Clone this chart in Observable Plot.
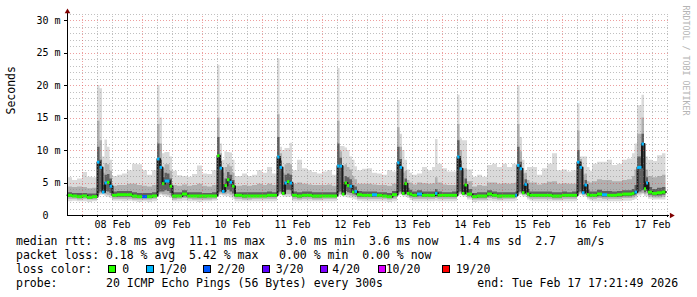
<!DOCTYPE html>
<html><head><meta charset="utf-8">
<script src="https://cdn.jsdelivr.net/npm/d3@7"></script>
<script src="https://cdn.jsdelivr.net/npm/@observablehq/plot@0.6"></script>
<style>
body{margin:0;background:#fff;}
#wrap{position:relative;width:697px;height:297px;overflow:hidden;background:#fff;font-family:"DejaVu Sans Mono",monospace;}
.lg{position:absolute;font-size:11.5px;line-height:14px;white-space:pre;color:#000;}
.sw{position:absolute;width:6px;height:6px;border:1px solid #000;}
</style></head><body>
<div id="wrap"></div>
<script>
// bin start, hours since 08 Feb 00:00
const binStart = [
  -6,-4,-2,
  0,2,4,6,7,8,9,10,11,12,14,16,18,20,22,
  24,26,28,30,31,32,33,34,35,36,38,40,42,44,46,
  48,50,52,54,55,56,57,58,59,60,61,64,66,68,70,
  72,74,76,78,79,80,81,82,83,84,86,88,90,92,94,
  96,98,100,102,103,104,105,106,107,108,109,110,112,114,116,118,
  120,122,124,126,127,128,129,130,131,132,134,136,138,140,141.2,142.2,
  144,146,148,150,151,152,153,154,156,158,160,162,164,166,
  168,170,172,173.3,174,175,176,177,178,179,180,182,184,186,188,190,
  192,194,196,198,199,200,201,202,203,204,206,208,210,212,214,
  216,218,220,221,222,223.8,224.8,225.6,226.4,228,230,232
];
const endHour = 233.36;
// median rtt (ms)
const median = [
  3.1,3.0,2.9,
  3.0,2.8,2.9,8.2,7.4,3.6,5.0,5.1,4.5,3.1,3.2,3.2,3.2,3.0,2.9,
  2.9,2.9,3.0,8.7,7.4,4.9,5.3,5.3,4.5,3.0,3.0,3.3,3.0,3.0,3.0,
  3.0,3.0,3.0,9.2,7.3,3.7,4.6,5.5,5.1,4.5,3.1,3.0,3.0,3.0,3.0,
  3.0,3.1,3.1,9.0,7.4,3.4,5.0,5.2,5.0,3.1,3.0,3.1,3.1,3.0,3.0,
  3.0,3.0,3.0,7.6,7.6,3.3,5.0,4.6,4.5,3.6,3.7,3.2,3.1,3.1,3.2,3.1,
  3.0,2.9,3.2,8.1,7.4,3.4,4.9,3.4,3.3,3.1,3.3,3.1,3.1,3.1,3.4,3.1,
  3.1,3.1,3.1,9.0,7.2,3.4,4.7,3.3,2.9,3.0,3.0,3.3,3.1,3.0,
  3.0,3.0,3.0,3.1,7.7,7.2,3.5,4.8,3.3,3.1,3.1,3.1,3.1,3.1,3.0,3.0,
  3.1,3.1,3.1,8.2,7.4,3.5,4.7,3.2,3.1,3.1,3.3,3.2,3.1,3.1,3.2,
  3.3,3.3,3.4,3.6,7.4,11.0,4.1,5.0,3.6,3.4,3.5,3.6
];
// lost pings out of 20 -> index into lossColors
const lossIdx = [
  0,0,0,
  0,0,0,1,1,1,1,0,1,0,0,0,0,0,0,
  2,0,0,1,1,0,1,1,0,0,0,0,0,0,0,
  0,0,0,0,1,1,0,0,1,0,0,0,0,0,0,
  0,0,0,1,1,0,1,0,1,0,0,0,0,0,0,
  0,0,0,1,1,0,0,0,1,0,1,0,0,0,1,0,
  0,0,0,1,1,0,0,0,0,0,1,0,0,0,1,0,
  0,0,0,1,1,0,0,0,0,0,0,0,0,0,
  0,0,0,1,1,1,0,1,0,0,0,0,0,0,0,0,
  0,0,0,1,1,1,1,0,0,0,0,1,0,0,0,
  0,0,0,1,1,1,0,1,0,0,0,0
];
// smoke: outer (min..max), middle (lo..hi), core (dlo..dhi), ms
const smokeMin = [
  2.1,2.2,2.1,
  2.1,2.0,2.1,2.9,3.1,3.1,2.9,2.8,2.6,2.2,2.2,2.1,2.2,2.1,2.0,
  2.1,2.0,2.1,3.0,3.1,3.0,2.9,2.8,2.6,2.1,2.1,2.2,2.1,2.1,2.0,
  2.1,2.1,2.2,3.0,3.1,3.0,2.9,2.9,2.7,2.5,2.1,2.1,2.1,2.1,2.1,
  2.1,2.1,2.1,3.0,3.1,2.9,2.8,2.8,2.8,2.1,2.1,2.1,2.1,2.1,2.1,
  2.1,2.1,2.1,3.0,3.0,2.9,2.8,2.7,2.6,2.5,2.4,2.2,2.1,2.1,2.1,2.1,
  2.1,2.0,2.1,3.0,3.1,2.9,2.8,2.6,2.3,2.1,2.1,2.1,2.1,2.1,2.2,2.1,
  2.1,2.1,2.1,3.0,3.1,2.9,2.8,2.4,2.0,2.1,2.1,2.2,2.1,2.1,
  2.1,2.1,2.1,2.2,3.0,3.1,2.9,2.8,2.4,2.2,2.1,2.1,2.1,2.1,2.1,2.1,
  2.1,2.1,2.1,3.0,3.1,2.9,2.8,2.4,2.2,2.1,2.1,2.1,2.1,2.1,2.1,
  2.2,2.2,2.3,2.5,3.0,3.2,2.9,2.9,2.5,2.4,2.4,2.4
];
const smokeMax = [
  5.8,5.4,5.6,
  6.6,5.9,5.8,20,19.5,9.0,11.6,10.5,8.5,6.0,6.2,6.4,6.9,7.9,7.8,
  6.9,6.2,6.9,20,15,9.5,9.7,9.7,9.0,6.8,6.1,6.0,5.9,6.3,7.6,
  6.4,6.3,6.9,23.1,11,8.5,9.8,9.7,9.6,8.5,6.0,6.4,6.0,6.2,6.9,
  6.5,7.4,6.4,24.1,10.5,10,10.3,10.3,11.1,6.9,8.5,7.2,6.9,6.6,6.4,
  6.7,6.9,6.2,22.6,10.6,10.6,10.4,10.0,9.0,8.5,7.5,6.9,7.1,7.2,6.5,6.4,
  6.2,6.9,6.7,17.7,12.5,10,8.5,7.0,6.5,6.2,6.4,7.4,6.9,7.4,11.7,7.9,
  7.2,6.7,6.7,18.5,11.8,11.5,11.5,7.0,5.9,6.2,5.9,7.7,7.9,7.4,
  7.9,7.4,7.9,7.9,20,12,8.5,6.9,7.4,7.4,7.4,6.2,7.2,7.9,9.5,6.9,
  7.0,6.7,6.9,17.2,9.0,9.0,9.0,7.4,6.8,7.9,8.2,8.2,8.5,7.7,7.9,
  8.5,8.7,9.5,11,16.9,18.5,9.0,9.0,8.5,8.3,9.2,9.5
];
const smokeLo = [
  2.5,2.5,2.4,
  2.5,2.4,2.4,3.1,3.3,3.3,3.2,3.1,3.0,2.5,2.5,2.5,2.5,2.4,2.4,
  2.4,2.4,2.5,3.2,3.3,3.2,3.2,3.1,3.0,2.4,2.5,2.6,2.5,2.4,2.4,
  2.4,2.4,2.5,3.2,3.3,3.2,3.2,3.3,3.1,2.9,2.5,2.4,2.4,2.5,2.5,
  2.5,2.5,2.5,3.2,3.3,3.1,3.2,3.2,3.2,2.5,2.4,2.5,2.5,2.4,2.4,
  2.5,2.5,2.5,3.2,3.2,3.1,3.2,3.1,3.0,2.9,2.8,2.5,2.5,2.5,2.5,2.5,
  2.5,2.4,2.5,3.2,3.3,3.1,3.1,2.9,2.6,2.5,2.5,2.5,2.5,2.5,2.6,2.5,
  2.5,2.5,2.5,3.2,3.3,3.1,3.1,2.7,2.4,2.4,2.4,2.6,2.5,2.4,
  2.5,2.5,2.5,2.6,3.2,3.3,3.1,3.1,2.7,2.5,2.5,2.5,2.5,2.5,2.4,2.4,
  2.5,2.5,2.5,3.2,3.3,3.1,3.1,2.7,2.5,2.5,2.6,2.5,2.5,2.5,2.5,
  2.6,2.6,2.7,2.9,3.3,3.4,3.2,3.3,2.8,2.7,2.7,2.8
];
const smokeHi = [
  4.4,4.3,4.4,
  4.3,4.1,4.2,14.5,11.5,6.5,8.0,7.8,6.8,4.5,4.6,4.6,4.8,4.8,4.6,
  4.5,4.4,4.6,14,11,7.2,7.8,7.8,6.8,4.6,4.5,4.7,4.5,4.6,4.8,
  4.5,4.4,4.6,15,9.5,6.5,7.4,7.8,7.5,6.5,4.5,4.6,4.5,4.6,4.8,
  4.6,4.8,4.6,15.5,9.5,6.5,7.8,8.0,7.8,4.8,5.0,4.8,4.7,4.6,4.6,
  4.6,4.7,4.5,14.5,9.8,7.5,7.8,7.4,7.0,6.0,5.5,4.8,4.8,4.8,4.7,4.6,
  4.6,4.5,4.8,13.5,10.5,6.5,6.8,5.4,5.0,4.7,5.0,4.9,4.8,4.9,5.8,5.0,
  4.7,4.6,4.6,14,10,7.0,7.2,5.2,4.4,4.6,4.5,5.0,5.0,4.8,
  4.9,4.8,4.9,5.0,14,9.8,6.4,6.5,5.4,5.0,5.0,4.7,4.9,5.1,5.2,4.8,
  4.9,4.8,4.8,13,8.6,6.2,6.4,5.2,5.0,5.2,5.5,5.4,5.4,5.2,5.2,
  5.4,5.5,6.0,7.0,12.5,15,7.0,7.0,6.0,5.8,6.0,6.2
];
const coreLo = [
  2.8,2.8,2.7,
  2.8,2.6,2.7,3.4,3.6,3.4,3.7,3.6,3.4,2.8,2.8,2.8,2.8,2.7,2.7,
  2.7,2.7,2.8,3.5,3.6,3.6,3.8,3.7,3.4,2.7,2.8,2.9,2.8,2.8,2.7,
  2.7,2.8,2.8,3.5,3.6,3.4,3.6,3.9,3.6,3.3,2.8,2.7,2.8,2.8,2.8,
  2.8,2.8,2.8,3.5,3.6,3.3,3.8,3.9,3.8,2.8,2.7,2.8,2.8,2.7,2.7,
  2.8,2.8,2.8,3.5,3.6,3.3,3.7,3.5,3.4,3.2,3.1,2.8,2.8,2.8,2.8,2.8,
  2.8,2.7,2.9,3.5,3.6,3.3,3.5,3.1,2.9,2.8,2.9,2.8,2.8,2.8,2.9,2.8,
  2.8,2.8,2.8,3.5,3.6,3.3,3.5,3.0,2.7,2.7,2.7,2.9,2.8,2.7,
  2.8,2.8,2.8,2.9,3.5,3.6,3.3,3.5,3.0,2.8,2.8,2.8,2.8,2.8,2.7,2.7,
  2.8,2.8,2.8,3.5,3.6,3.3,3.5,2.9,2.8,2.8,2.9,2.8,2.8,2.8,2.8,
  2.9,2.9,3.0,3.2,3.6,3.8,3.5,3.7,3.1,3.0,3.0,3.1
];
const coreHi = [
  3.5,3.4,3.4,
  3.4,3.3,3.3,10.5,8.5,4.6,6.2,6.3,5.6,3.6,3.7,3.7,3.7,3.5,3.4,
  3.4,3.4,3.5,11,8.5,5.8,6.5,6.4,5.6,3.5,3.5,3.8,3.5,3.5,3.5,
  3.4,3.4,3.5,12,8.3,4.8,5.6,6.6,6.2,5.4,3.5,3.5,3.5,3.5,3.5,
  3.5,3.6,3.5,12,8.4,4.6,6.2,6.4,6.2,3.6,3.5,3.6,3.6,3.5,3.5,
  3.5,3.5,3.5,11,8.8,5.0,6.0,5.8,5.5,4.6,4.4,3.7,3.6,3.6,3.6,3.5,
  3.5,3.4,3.7,10.5,8.6,4.6,5.6,4.2,3.9,3.6,3.8,3.6,3.6,3.6,4.0,3.6,
  3.5,3.5,3.6,11.5,8.4,4.6,5.6,4.0,3.4,3.5,3.5,3.8,3.6,3.5,
  3.5,3.5,3.5,3.6,10.5,8.2,4.6,5.5,4.0,3.6,3.6,3.6,3.6,3.6,3.5,3.5,
  3.6,3.5,3.6,10,8.2,4.6,5.4,3.9,3.6,3.6,3.9,3.7,3.7,3.6,3.7,
  3.8,3.8,4.0,4.6,9.0,12.5,5.2,5.8,4.3,4.0,4.2,4.3
];

const lossColors = ["#26ff00","#00b8ff","#0059ff","#5e00ff","#7e00ff","#dd00ff","#ff0000"];
const lossLabels = ["0","1/20","2/20","3/20","4/20","10/20","19/20"];
const dayNoon = [12,36,60,84,108,132,156,180,204,228];
const dayLabels = ["08 Feb","09 Feb","10 Feb","11 Feb","12 Feb","13 Feb","14 Feb","15 Feb","16 Feb","17 Feb"];
const yTicks = [0,5,10,15,20,25,30];
const yLabels = ["0","5 m","10 m","15 m","20 m","25 m","30 m"];
const rttStats = ["3.8 ms avg","11.1 ms max","3.0 ms min","3.6 ms now","1.4 ms sd","2.7   am/s"];
const lossStats = ["0.18 % avg","5.42 % max","0.00 % min","0.00 % now"];
const probeText = "20 ICMP Echo Pings (56 Bytes) every 300s";
const endText = "end: Tue Feb 17 17:21:49 2026";

const bins = binStart.map((t, i) => ({
  t, t2: i + 1 < binStart.length ? binStart[i + 1] : endHour,
  med: median[i], col: lossColors[lossIdx[i]],
  min: smokeMin[i], max: smokeMax[i], lo: smokeLo[i], hi: smokeHi[i], dlo: coreLo[i], dhi: coreHi[i]
}));
const pts = bins.concat([{...bins[bins.length - 1], t: endHour}]);

const minorY = d3.range(1, 32).filter(v => v % 5 !== 0);
const majorY = [5,10,15,20,25,30];
const minorX = d3.range(6, 235, 6).filter(h => h % 24 !== 0);
const majorX = d3.range(0, 217, 24);
const gGray = "rgba(130,130,130,0.5)", gRed = "rgba(222,80,80,0.55)";
const dash = "1,2";
const X0 = -6, XR = 234.8;

const chart = Plot.plot({
  width: 697, height: 232,
  marginLeft: 67, marginRight: 30, marginTop: 20, marginBottom: 17,
  x: {domain: [-6, 234], axis: null},
  y: {domain: [0, 30], axis: null},
  color: {type: "identity"},
  style: {fontFamily: "DejaVu Sans Mono", background: "#fff", color: "#000"},
  marks: [
    Plot.areaY(pts, {x: "t", y1: "min", y2: "max", curve: "step-after", fill: "#dadada"}),
    Plot.areaY(pts, {x: "t", y1: "lo", y2: "hi", curve: "step-after", fill: "#b0b0b0"}),
    Plot.areaY(pts, {x: "t", y1: "dlo", y2: "dhi", curve: "step-after", fill: "#606060"}),
    Plot.line(pts, {x: "t", y: "med", curve: "step-after", stroke: "#1a1a1a", strokeWidth: 2}),
    Plot.ruleY(bins, {x1: "t", x2: "t2", y: "med", stroke: "col", strokeWidth: 3}),
    Plot.ruleY(minorY, {x1: () => X0, x2: () => XR, y: d => d, stroke: gGray, strokeDasharray: dash, shapeRendering: "crispEdges"}),
    Plot.ruleX(minorX, {x: d => d, y1: () => 0, y2: () => 31, stroke: gGray, strokeDasharray: dash, shapeRendering: "crispEdges"}),
    Plot.ruleY(majorY, {x1: () => X0, x2: () => XR, y: d => d, stroke: gRed, strokeDasharray: dash, shapeRendering: "crispEdges"}),
    Plot.ruleX(majorX, {x: d => d, y1: () => 0, y2: () => 31, stroke: gRed, strokeDasharray: dash, shapeRendering: "crispEdges"}),
    // axes
    Plot.ruleY([0], {x1: () => X0, x2: () => XR, y: d => d, stroke: "#000", shapeRendering: "crispEdges"}),
    Plot.ruleX([X0], {x: d => d, y1: () => 0, y2: () => 31.1, stroke: "#000", shapeRendering: "crispEdges"}),
    Plot.ruleX(minorX.concat(majorX), {x: d => d, y1: () => 0, y2: () => -0.35, stroke: "#000", shapeRendering: "crispEdges"}),
    Plot.ruleY(majorY, {y: d => d, x1: () => X0, x2: () => -7.2, stroke: "#000", shapeRendering: "crispEdges"}),
    Plot.dot([0], {x: () => X0, y: () => 31.35, symbol: "triangle", r: 2.1, fill: "#7f0000", stroke: "none"}),
    Plot.dot([0], {x: () => 235.6, y: () => 0, symbol: "triangle", r: 2.1, rotate: 90, fill: "#7f0000", stroke: "none"}),
    // labels
    Plot.text(yTicks.slice(1).map((v, i) => ({v, s: yLabels[i + 1]})), {x: () => X0, y: "v", text: "s", textAnchor: "end", dx: -7, fontSize: 10, fill: "#000"}),
    Plot.text([{v: yTicks[0], s: yLabels[0]}], {x: () => X0, y: "v", text: "s", textAnchor: "end", dx: -19, fontSize: 10, fill: "#000"}),
    Plot.text(dayNoon.map((h, i) => ({h, s: dayLabels[i]})), {x: "h", y: () => 0, text: "s", dy: 12, lineAnchor: "bottom", fontSize: 10, fill: "#000"}),
    Plot.text(["Seconds"], {frameAnchor: "left", dx: -56, dy: -3.5, rotate: -90, fontSize: 11.5, fill: "#000"}),
    Plot.text(["RRDTOOL / TOBI OETIKER"], {frameAnchor: "top-right", dx: 21, dy: -15, rotate: 90, textAnchor: "start", fontSize: 8.3, fill: "#b4b4b4"})
  ]
});

const wrap = document.getElementById("wrap");
wrap.appendChild(chart);
function addText(s, left, top) {
  const d = document.createElement("div");
  d.className = "lg"; d.style.left = left + "px"; d.style.top = top + "px";
  d.textContent = s; wrap.appendChild(d);
}
const rttLine = "median rtt:  " + rttStats[0] + "  " + rttStats[1] + "   " + rttStats[2] + "  " + rttStats[3] + "   " + rttStats[4] + "  " + rttStats[5];
const lossLine = "packet loss: " + lossStats[0] + "  " + lossStats[1] + "   " + lossStats[2] + "  " + lossStats[3];
addText(rttLine, 16, 234.3);
addText(lossLine, 16, 248);
addText("loss color:", 16, 262);
const swatchX = [108.3, 146, 203.3, 261.7, 320, 378.3, 441.7];
const swatchTextX = [122.3, 159, 217.3, 275.7, 332.3, 385.7, 455.7];
swatchX.forEach((x, i) => {
  const s = document.createElement("div");
  s.className = "sw"; s.style.left = x + "px"; s.style.top = "265.3px"; s.style.background = lossColors[i];
  wrap.appendChild(s);
  addText(lossLabels[i], swatchTextX[i], 262);
});
addText("probe:       " + probeText, 16, 276);
addText(endText, 477.3, 276);
</script></body></html>
